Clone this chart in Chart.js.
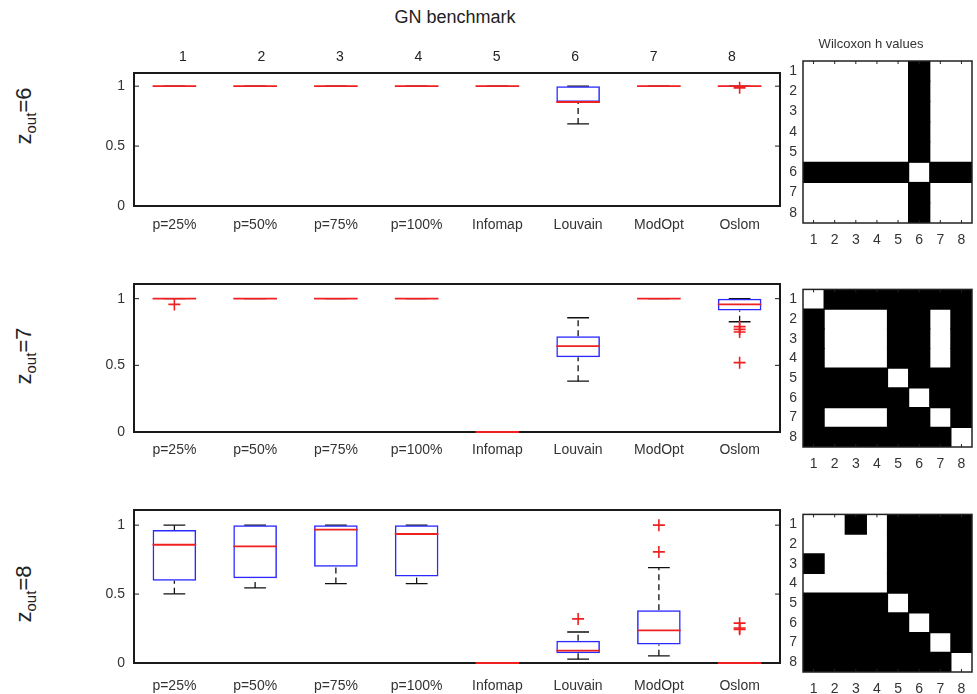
<!DOCTYPE html>
<html>
<head>
<meta charset="utf-8">
<title>GN benchmark</title>
<script src="https://cdn.jsdelivr.net/npm/chart.js@4.4.1/dist/chart.umd.min.js"></script>
<style>
    html, body { margin: 0; padding: 0; background: #fff; }
    body {
        width: 977px; height: 694px; position: relative; overflow: hidden;
        font-family: 'Liberation Sans', Arial, sans-serif; color: #222;
    }
    canvas { position: absolute; }
    .suptitle {
        position: absolute; left: 0; width: 910px; top: 7px;
        text-align: center; font-size: 18px; color: #222;
    }
    .zlabel {
        position: absolute; white-space: nowrap; font-size: 22px; color: #222;
        transform: translate(-50%, -50%) rotate(-90deg);
    }
    .zlabel sub { font-size: 15px; }
</style>
</head>
<body>

<div class="suptitle">GN benchmark</div>
<div class="zlabel" style="left:25px; top:116px;">z<sub>out</sub>=6</div>
<div class="zlabel" style="left:25px; top:356px;">z<sub>out</sub>=7</div>
<div class="zlabel" style="left:25px; top:594px;">z<sub>out</sub>=8</div>

<canvas id="row6" width="790" height="200" style="left:0; top:40px;"></canvas>
<canvas id="row7" width="790" height="206" style="left:0; top:260px;"></canvas>
<canvas id="row8" width="790" height="208" style="left:0; top:486px;"></canvas>
<canvas id="mat6" width="207" height="214" style="left:770px; top:35px;"></canvas>
<canvas id="mat7" width="207" height="198" style="left:770px; top:275px;"></canvas>
<canvas id="mat8" width="207" height="194" style="left:770px; top:500px;"></canvas>

<script>
/* ==========================================
   Data
========================================== */

const categories = ['p=25%', 'p=50%', 'p=75%', 'p=100%', 'Infomap', 'Louvain', 'ModOpt', 'Oslom'];
const topLabels = ['1', '2', '3', '4', '5', '6', '7', '8'];
const yTicks = [0, 0.5, 1];
const matrixLabels = ['1', '2', '3', '4', '5', '6', '7', '8'];

// z_out = 6
const z6Low    = [1, 1, 1, 1, 1, 0.685, 1, 1];
const z6Q1     = [1, 1, 1, 1, 1, 0.868, 1, 1];
const z6Median = [1, 1, 1, 1, 1, 0.868, 1, 1];
const z6Q3     = [1, 1, 1, 1, 1, 1, 1, 1];
const z6High   = [1, 1, 1, 1, 1, 1, 1, 1];
const z6OutlierCat = [8];
const z6OutlierVal = [0.986];

// z_out = 7
const z7Low    = [1, 1, 1, 1, 0, 0.381, 1, 0.827];
const z7Q1     = [1, 1, 1, 1, 0, 0.561, 1, 0.912];
const z7Median = [1, 1, 1, 1, 0, 0.644, 1, 0.957];
const z7Q3     = [1, 1, 1, 1, 0, 0.719, 1, 1];
const z7High   = [1, 1, 1, 1, 0, 0.857, 1, 1];
const z7OutlierCat = [1, 8, 8, 8, 8];
const z7OutlierVal = [0.957, 0.79, 0.77, 0.75, 0.52];

// z_out = 8
const z8Low    = [0.502, 0.545, 0.576, 0.576, 0, 0.028, 0.052, 0];
const z8Q1     = [0.597, 0.614, 0.699, 0.628, 0, 0.071, 0.135, 0];
const z8Median = [0.858, 0.846, 0.967, 0.936, 0, 0.09, 0.237, 0];
const z8Q3     = [0.964, 1, 1, 1, 0, 0.161, 0.382, 0];
const z8High   = [1, 1, 1, 1, 0, 0.225, 0.692, 0];
const z8OutlierCat = [6, 7, 7, 8, 8, 8];
const z8OutlierVal = [0.32, 1, 0.806, 0.289, 0.254, 0.244];

// Wilcoxon h values (1 = black)
const wilcoxon6 = [
    [0, 0, 0, 0, 0, 1, 0, 0],
    [0, 0, 0, 0, 0, 1, 0, 0],
    [0, 0, 0, 0, 0, 1, 0, 0],
    [0, 0, 0, 0, 0, 1, 0, 0],
    [0, 0, 0, 0, 0, 1, 0, 0],
    [1, 1, 1, 1, 1, 0, 1, 1],
    [0, 0, 0, 0, 0, 1, 0, 0],
    [0, 0, 0, 0, 0, 1, 0, 0]
];

const wilcoxon7 = [
    [0, 1, 1, 1, 1, 1, 1, 1],
    [1, 0, 0, 0, 1, 1, 0, 1],
    [1, 0, 0, 0, 1, 1, 0, 1],
    [1, 0, 0, 0, 1, 1, 0, 1],
    [1, 1, 1, 1, 0, 1, 1, 1],
    [1, 1, 1, 1, 1, 0, 1, 1],
    [1, 0, 0, 0, 1, 1, 0, 1],
    [1, 1, 1, 1, 1, 1, 1, 0]
];

const wilcoxon8 = [
    [0, 0, 1, 0, 1, 1, 1, 1],
    [0, 0, 0, 0, 1, 1, 1, 1],
    [1, 0, 0, 0, 1, 1, 1, 1],
    [0, 0, 0, 0, 1, 1, 1, 1],
    [1, 1, 1, 1, 0, 1, 1, 1],
    [1, 1, 1, 1, 1, 0, 1, 1],
    [1, 1, 1, 1, 1, 1, 0, 1],
    [1, 1, 1, 1, 1, 1, 1, 0]
];

Chart.defaults.font.family = "'Liberation Sans', Arial, sans-serif";
Chart.defaults.color = '#333';

document.addEventListener('DOMContentLoaded', function () {

    const BOX_WIDTH = 0.54;
    const CAP_WIDTH = 0.27;

    /* ==========================================
       Box plot rows
    ========================================== */

    function createBoxRow(canvasId, stats, settings) {

        const canvas = document.getElementById(canvasId);

        if (!canvas) {
            return;
        }

        const boxes = stats.q1.map(function (q1, i) {
            return stats.q3[i] > q1 ? [q1, stats.q3[i]] : null;
        });

        // category scale needs the label itself, not a number
        const outliers = stats.outlierCat.map(function (cat, i) {
            return { x: categories[cat - 1], y: stats.outlierVal[i] };
        });

        const boxParts = {

            id: 'boxParts',

            beforeDatasetsDraw: function (chart) {

                const ctx = chart.ctx;
                const x = chart.scales.x;
                const y = chart.scales.y;
                const unit = x.getPixelForValue(1) - x.getPixelForValue(0);
                const cap = unit * CAP_WIDTH / 2;

                ctx.save();
                ctx.strokeStyle = '#111';
                ctx.lineWidth = 1.3;

                stats.low.forEach(function (low, i) {

                    const cx = x.getPixelForValue(i);

                    ctx.setLineDash([6, 4]);
                    ctx.beginPath();
                    ctx.moveTo(cx, y.getPixelForValue(low));
                    ctx.lineTo(cx, y.getPixelForValue(stats.q1[i]));
                    ctx.moveTo(cx, y.getPixelForValue(stats.q3[i]));
                    ctx.lineTo(cx, y.getPixelForValue(stats.high[i]));
                    ctx.stroke();

                    ctx.setLineDash([]);
                    ctx.beginPath();
                    ctx.moveTo(cx - cap, y.getPixelForValue(low));
                    ctx.lineTo(cx + cap, y.getPixelForValue(low));
                    ctx.moveTo(cx - cap, y.getPixelForValue(stats.high[i]));
                    ctx.lineTo(cx + cap, y.getPixelForValue(stats.high[i]));
                    ctx.stroke();
                });

                ctx.restore();
            },

            afterDatasetsDraw: function (chart) {

                const ctx = chart.ctx;
                const area = chart.chartArea;
                const x = chart.scales.x;
                const y = chart.scales.y;
                const unit = x.getPixelForValue(1) - x.getPixelForValue(0);
                const half = unit * BOX_WIDTH / 2;

                ctx.save();

                // frame and inward ticks
                ctx.strokeStyle = '#1a1a1a';
                ctx.lineWidth = 2;
                ctx.strokeRect(area.left, area.top, area.right - area.left, area.bottom - area.top);

                ctx.lineWidth = 1;
                ctx.beginPath();
                yTicks.forEach(function (v) {
                    const py = y.getPixelForValue(v);
                    ctx.moveTo(area.left, py);
                    ctx.lineTo(area.left + 5, py);
                    ctx.moveTo(area.right, py);
                    ctx.lineTo(area.right - 5, py);
                });
                ctx.stroke();

                // medians
                ctx.strokeStyle = '#ee2020';
                ctx.lineWidth = 1.8;
                ctx.beginPath();
                stats.median.forEach(function (m, i) {
                    const cx = x.getPixelForValue(i);
                    const py = y.getPixelForValue(m);
                    ctx.moveTo(cx - half, py);
                    ctx.lineTo(cx + half, py);
                });
                ctx.stroke();

                ctx.restore();
            }

        };

        const scales = {

            x: {
                type: 'category',
                offset: true,
                border: { display: false },
                grid: { display: false, drawTicks: false },
                ticks: {
                    autoSkip: false,
                    maxRotation: 0,
                    padding: settings.labelPadding,
                    color: '#333',
                    font: { size: 14 }
                },
                afterFit: function (scale) {
                    scale.height = settings.bottom;
                }
            },

            y: {
                min: 0,
                max: 1.11,
                border: { display: false },
                grid: { display: false, drawTicks: false },
                afterBuildTicks: function (scale) {
                    scale.ticks = yTicks.map(function (v) {
                        return { value: v };
                    });
                },
                ticks: {
                    padding: 9,
                    color: '#333',
                    font: { size: 14 },
                    callback: function (value) {
                        return String(value);
                    }
                },
                afterFit: function (scale) {
                    scale.width = 134;
                }
            }

        };

        if (settings.topAxis) {

            scales.x2 = {
                type: 'linear',
                position: 'top',
                offset: false,
                min: 0.375,
                max: 8.612,
                border: { display: false },
                grid: { display: false, drawTicks: false, offset: false },
                afterBuildTicks: function (scale) {
                    scale.ticks = topLabels.map(function (label, i) {
                        return { value: i + 1 };
                    });
                },
                ticks: {
                    autoSkip: false,
                    maxRotation: 0,
                    padding: 7,
                    color: '#222',
                    font: { size: 14 },
                    callback: function (value) {
                        return topLabels[value - 1];
                    }
                },
                afterFit: function (scale) {
                    scale.height = settings.top;
                }
            };

        }

        new Chart(canvas, {

            type: 'bar',

            data: {

                labels: categories,

                datasets: [

                    {
                        type: 'bar',
                        data: boxes,
                        backgroundColor: 'rgba(0,0,0,0)',
                        borderColor: '#2a2aff',
                        borderWidth: 1.5,
                        borderSkipped: false,
                        barPercentage: BOX_WIDTH,
                        categoryPercentage: 1,
                        order: 2
                    },

                    {
                        type: 'scatter',
                        data: outliers,
                        pointStyle: 'cross',
                        pointRadius: 6,
                        borderColor: '#ee2020',
                        borderWidth: 1.6,
                        order: 1
                    }

                ]

            },

            options: {

                responsive: false,
                animation: false,
                events: [],

                layout: {
                    padding: {
                        top: settings.topAxis ? 0 : settings.top,
                        right: 10,
                        left: 0,
                        bottom: 0
                    }
                },

                plugins: {
                    legend: { display: false },
                    tooltip: { enabled: false }
                },

                scales: scales

            },

            plugins: [boxParts]

        });

    }

    /* ==========================================
       Wilcoxon matrices
    ========================================== */

    function createMatrix(canvasId, matrix, settings) {

        const canvas = document.getElementById(canvasId);

        if (!canvas) {
            return;
        }

        // black runs in every row become floating horizontal bars
        const datasets = [];

        matrix.forEach(function (row, r) {

            const runs = [];
            let start = -1;

            row.forEach(function (cell, c) {
                if (cell && start < 0) {
                    start = c;
                }
                if (start >= 0 && (!cell || c === row.length - 1)) {
                    const end = cell ? c : c - 1;
                    runs.push([start + 1, end + 1]);
                    start = -1;
                }
            });

            runs.forEach(function (run, k) {
                if (!datasets[k]) {
                    datasets[k] = {
                        data: matrixLabels.map(function () { return null; }),
                        backgroundColor: '#000',
                        borderWidth: 0,
                        inflateAmount: 0.6,
                        barPercentage: 1,
                        categoryPercentage: 1
                    };
                }
                datasets[k].data[r] = [run[0] - 0.5, run[1] + 0.5];
            });

        });

        const frame = {

            id: 'matrixFrame',

            afterDatasetsDraw: function (chart) {

                const ctx = chart.ctx;
                const area = chart.chartArea;
                const x = chart.scales.x;

                ctx.save();
                ctx.strokeStyle = '#222';
                ctx.lineWidth = 1.5;
                ctx.strokeRect(area.left, area.top, area.right - area.left, area.bottom - area.top);

                ctx.lineWidth = 1;
                ctx.beginPath();
                matrixLabels.forEach(function (label, i) {
                    const px = x.getPixelForValue(i + 1);
                    ctx.moveTo(px, area.top);
                    ctx.lineTo(px, area.top + 3);
                    ctx.moveTo(px, area.bottom);
                    ctx.lineTo(px, area.bottom - 3);
                });
                ctx.stroke();
                ctx.restore();
            }

        };

        new Chart(canvas, {

            type: 'bar',

            data: {
                labels: matrixLabels,
                datasets: datasets
            },

            options: {

                indexAxis: 'y',
                responsive: false,
                animation: false,
                events: [],

                layout: {
                    padding: { top: settings.top, right: 5, left: 0, bottom: 0 }
                },

                datasets: {
                    bar: { grouped: false }
                },

                plugins: {
                    legend: { display: false },
                    tooltip: { enabled: false },
                    title: {
                        display: !!settings.title,
                        text: settings.title || '',
                        color: '#333',
                        font: { size: 13, weight: 'normal', lineHeight: 1 },
                        padding: { top: 3, bottom: 10 }
                    }
                },

                scales: {

                    x: {
                        type: 'linear',
                        min: 0.5,
                        max: 8.5,
                        border: { display: false },
                        grid: { display: false, drawTicks: false },
                        afterBuildTicks: function (scale) {
                            scale.ticks = matrixLabels.map(function (label, i) {
                                return { value: i + 1 };
                            });
                        },
                        ticks: {
                            autoSkip: false,
                            maxRotation: 0,
                            padding: 9,
                            color: '#333',
                            font: { size: 14 },
                            callback: function (value) {
                                return matrixLabels[value - 1];
                            }
                        },
                        afterFit: function (scale) {
                            scale.height = settings.bottom;
                        }
                    },

                    y: {
                        type: 'category',
                        offset: true,
                        border: { display: false },
                        grid: { display: false, drawTicks: false },
                        ticks: {
                            autoSkip: false,
                            padding: 6,
                            color: '#333',
                            font: { size: 14 }
                        },
                        afterFit: function (scale) {
                            scale.width = 33;
                        }
                    }

                }

            },

            plugins: [frame]

        });

    }

    createBoxRow('row6', {
        low: z6Low, q1: z6Q1, median: z6Median, q3: z6Q3, high: z6High,
        outlierCat: z6OutlierCat, outlierVal: z6OutlierVal
    }, { topAxis: true, top: 33, bottom: 34, labelPadding: 11 });

    createBoxRow('row7', {
        low: z7Low, q1: z7Q1, median: z7Median, q3: z7Q3, high: z7High,
        outlierCat: z7OutlierCat, outlierVal: z7OutlierVal
    }, { topAxis: false, top: 24, bottom: 34, labelPadding: 10 });

    createBoxRow('row8', {
        low: z8Low, q1: z8Q1, median: z8Median, q3: z8Q3, high: z8High,
        outlierCat: z8OutlierCat, outlierVal: z8OutlierVal
    }, { topAxis: false, top: 24, bottom: 31, labelPadding: 15 });

    createMatrix('mat6', wilcoxon6, { title: 'Wilcoxon h values', top: 0, bottom: 26 });
    createMatrix('mat7', wilcoxon7, { top: 10, bottom: 26 });
    createMatrix('mat8', wilcoxon8, { top: 10, bottom: 22 });

});
</script>
</body>
</html>
